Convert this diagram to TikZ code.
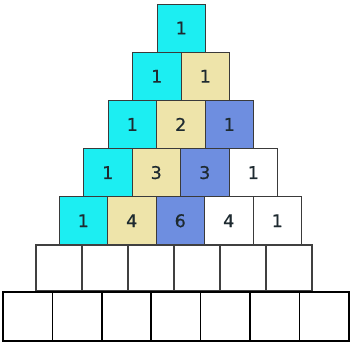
\documentclass[tikz,border=0pt]{standalone}
\usepackage{fontspec}
\setmainfont{DejaVu Sans}
\newfontfamily\numfont[FakeBold=0.6]{DejaVu Sans}
\definecolor{cyanbox}{HTML}{1CEEF2}
\definecolor{tanbox}{HTML}{EEE4AA}
\definecolor{bluebox}{HTML}{6E8EE0}
\definecolor{numcol}{HTML}{1E2A30}
\definecolor{edgecol}{HTML}{3A3A3A}
\begin{document}
\begin{tikzpicture}[x=1pt,y=-1pt,
  cell/.style={rectangle,draw=edgecol,line width=0.9pt,inner sep=0pt,outer sep=0pt,
    minimum width=48.5pt,minimum height=48pt,font=\numfont\fontsize{17.5}{17.5}\selectfont,text=numcol},
  emptycell/.style={rectangle,draw=black!75,line width=1.3pt,fill=white,inner sep=0pt,outer sep=0pt,
    minimum width=46pt,minimum height=46pt},
  basecell/.style={rectangle,draw=black,line width=1.5pt,fill=white,inner sep=0pt,outer sep=0pt,
    minimum width=49.4pt,minimum height=49pt}]
\useasboundingbox[fill=white] (0,0) rectangle (350,342);
% Pascal rows
\foreach \r/\vals in {1/{1},2/{1,1},3/{1,2,1},4/{1,3,3,1},5/{1,4,6,4,1}}{
  \foreach \v [count=\k from 0] in \vals {
    \ifnum\k=0 \def\fc{cyanbox}\else\ifnum\k=1 \def\fc{tanbox}\else\ifnum\k=2 \def\fc{bluebox}\else\def\fc{white}\fi\fi\fi
    \node[cell,fill=\fc] (b-\r-\k) at ({157+24.25+48.5*\k-24.5*(\r-1)},{4+24+48.2*(\r-1)}) {\v};
  }
}
% empty row of six
\foreach \k in {0,...,5}{
  \node[emptycell] (e-\k) at ({36+23+46*\k},268) {};
}
% base row of seven
\foreach \k in {0,...,6}{
  \node[basecell] (f-\k) at ({3+24.7+49.4*\k},316.5) {};
}
\end{tikzpicture}
\end{document}
